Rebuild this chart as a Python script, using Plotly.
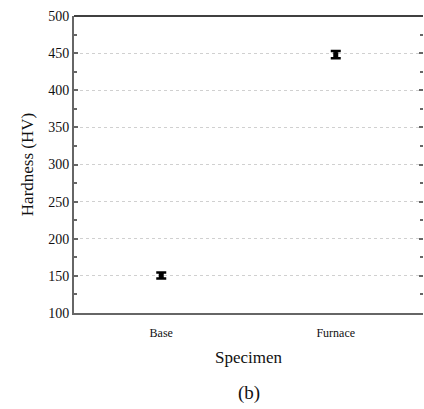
import plotly.graph_objects as go

categories = ["Base", "Furnace"]
hardness = [150.5, 448]
errors = [4, 5]

FONT = "Liberation Serif, Times New Roman, serif"

fig = go.Figure()
fig.add_trace(go.Scatter(
    x=categories, y=hardness, mode="markers",
    marker=dict(symbol="square", size=5, color="black"),
    error_y=dict(type="data", array=errors, visible=True, color="black", thickness=2.5, width=5),
    showlegend=False,
))
# invisible trace to carry the right-hand mirrored tick axis
fig.add_trace(go.Scatter(x=categories, y=hardness, yaxis="y2", mode="markers",
                         marker=dict(opacity=0), showlegend=False, hoverinfo="skip"))

fig.update_layout(
    width=424, height=409,
    margin=dict(l=74, r=1, t=16, b=96),
    paper_bgcolor="white", plot_bgcolor="white",
    font=dict(family=FONT, color="#111"),
    xaxis=dict(
        type="category", range=[-0.5, 1.5],
        showline=True, linecolor="#666", linewidth=2,
        ticks="", showgrid=False, zeroline=False,
        tickfont=dict(size=12, family=FONT, color="#111"), ticklabelstandoff=8,
        title=dict(text="Specimen", font=dict(size=17, family=FONT, color="#111"), standoff=12),
    ),
    yaxis=dict(
        range=[100, 500], dtick=50, tick0=100,
        showline=True, linecolor="#666", linewidth=2,
        ticks="inside", ticklen=4, tickcolor="#666", tickwidth=1.5,
        minor=dict(ticks="inside", ticklen=3, dtick=25, tickcolor="#666", showgrid=False),
        showgrid=True, gridcolor="#d0d0d0", griddash="dot", gridwidth=1,
        zeroline=False,
        tickfont=dict(size=14, family=FONT, color="#111"),
        title=dict(text="Hardness (HV)", font=dict(size=17, family=FONT, color="#111"), standoff=10),
    ),
    yaxis2=dict(
        overlaying="y", side="right", matches="y",
        range=[100, 500], dtick=50, tick0=100,
        showline=False, showgrid=False, zeroline=False, showticklabels=False,
        ticks="inside", ticklen=4, tickcolor="#666", tickwidth=1.5,
        minor=dict(ticks="inside", ticklen=3, dtick=25, tickcolor="#666", showgrid=False),
    ),
    shapes=[dict(type="line", xref="paper", yref="paper", x0=0, x1=1, y0=1, y1=1,
                 line=dict(color="black", width=1.5))],
    annotations=[dict(text="(b)", xref="paper", yref="paper", x=0.5, y=-0.27,
                      yanchor="middle", showarrow=False, font=dict(size=19, family=FONT, color="#111"))],
)

fig.write_html("out.html")
